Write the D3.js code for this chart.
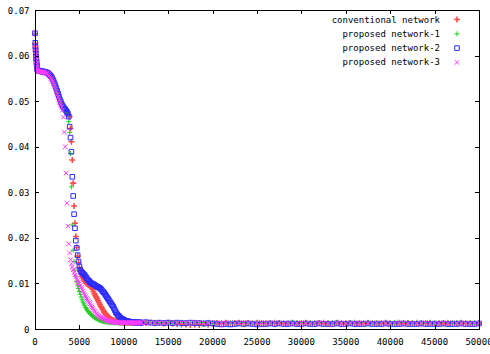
<!DOCTYPE html>
<html>
<head>
<meta charset="utf-8">
<script src="https://cdn.jsdelivr.net/npm/d3@7"></script>
<style>
  body { margin: 0; background: #fff; }
  text { font-family: "DejaVu Sans Mono", monospace; font-size: 9px; fill: #000; }
</style>
</head>
<body>
<div id="chart"></div>
<script>
// iterations at which the error was logged (denser at the very start)
var iterations = d3.range(0, 300, 25).concat(d3.range(300, 12000, 100), d3.range(12000, 50001, 500));

var xTicks = d3.range(0, 50001, 5000);
var yTicks = [0, 0.01, 0.02, 0.03, 0.04, 0.05, 0.06, 0.07];

var seriesNames = ['conventional network', 'proposed network-1', 'proposed network-2', 'proposed network-3'];

var conventional = [
  0.0648, 0.0626, 0.0618, 0.0610, 0.0603, 0.0596, 0.0590, 0.0584, 0.0579, 0.0575, 0.0571, 0.0568,
  0.0567, 0.0566, 0.0566, 0.0565, 0.0565, 0.0565, 0.0564, 0.0564, 0.0564, 0.0563,
  0.0562, 0.0561, 0.0560, 0.0558, 0.0556, 0.0554, 0.0551, 0.0547, 0.0543, 0.0538,
  0.0533, 0.0527, 0.0521, 0.0515, 0.0509, 0.0503, 0.0498, 0.0493, 0.0489, 0.0486,
  0.0483, 0.0481, 0.0478, 0.0475, 0.0472, 0.0469,
  0.0466, 0.0440, 0.0411, 0.0371, 0.0320, 0.0270, 0.0232, 0.0203, 0.0179, 0.0160,
  0.0146, 0.0135, 0.0127, 0.0121, 0.0116, 0.0112, 0.0108, 0.0105, 0.0102, 0.0100,
  0.0099, 0.0097, 0.0096, 0.0094, 0.0093, 0.0091, 0.0087, 0.0082, 0.0077, 0.0073,
  0.0070, 0.0066, 0.0062, 0.0058, 0.0054, 0.0050, 0.0047, 0.0044, 0.0040, 0.0037,
  0.0034, 0.0032, 0.0030, 0.0028, 0.0026, 0.0024, 0.0022, 0.0021, 0.0020, 0.0019,
  0.0018, 0.0017, 0.0017, 0.0016, 0.0016, 0.0016, 0.0015, 0.0015, 0.0015, 0.0015,
  0.0014, 0.0015, 0.0014, 0.0014, 0.0015, 0.0014, 0.0014, 0.0014, 0.0013, 0.0014,
  0.0014, 0.0013, 0.0014, 0.0014, 0.0013, 0.0014, 0.0013, 0.0014, 0.0013, 0.0013, 0.0014,
  0.0014, 0.0013, 0.0014, 0.0013, 0.0013, 0.0012, 0.0013, 0.0012, 0.0011, 0.0010,
  0.0010, 0.0009, 0.0010, 0.0009, 0.0011, 0.0010, 0.0012, 0.0013, 0.0012, 0.0013,
  0.0012, 0.0013, 0.0013, 0.0012, 0.0013, 0.0012, 0.0013, 0.0012, 0.0012, 0.0013,
  0.0012, 0.0013, 0.0012, 0.0012, 0.0013, 0.0012, 0.0012, 0.0013, 0.0012, 0.0012,
  0.0013, 0.0012, 0.0012, 0.0012, 0.0013, 0.0012, 0.0012, 0.0013, 0.0012, 0.0012,
  0.0012, 0.0013, 0.0012, 0.0012, 0.0012, 0.0013, 0.0012, 0.0012, 0.0012, 0.0012,
  0.0013, 0.0012, 0.0012, 0.0012, 0.0012, 0.0013, 0.0012, 0.0012, 0.0012, 0.0012,
  0.0012, 0.0012, 0.0013, 0.0012, 0.0012, 0.0012, 0.0012
];

var proposed1 = [
  0.0648, 0.0627, 0.0617, 0.0609, 0.0602, 0.0596, 0.0590, 0.0584, 0.0579, 0.0575, 0.0571, 0.0568,
  0.0567, 0.0566, 0.0566, 0.0565, 0.0565, 0.0565, 0.0565, 0.0564, 0.0564, 0.0563,
  0.0562, 0.0561, 0.0559, 0.0557, 0.0555, 0.0553, 0.0550, 0.0546, 0.0542, 0.0537,
  0.0532, 0.0526, 0.0520, 0.0514, 0.0508, 0.0502, 0.0497, 0.0492, 0.0488, 0.0485,
  0.0482, 0.0480, 0.0477, 0.0474, 0.0468, 0.0455,
  0.0431, 0.0385, 0.0312, 0.0228, 0.0173, 0.0148, 0.0129, 0.0115, 0.0104, 0.0096,
  0.0089, 0.0082, 0.0076, 0.0070, 0.0064, 0.0059, 0.0055, 0.0051, 0.0047, 0.0044,
  0.0041, 0.0038, 0.0036, 0.0034, 0.0032, 0.0030, 0.0028, 0.0027, 0.0025, 0.0024,
  0.0023, 0.0022, 0.0021, 0.0020, 0.0019, 0.0018, 0.0018, 0.0017, 0.0017, 0.0016,
  0.0016, 0.0016, 0.0015, 0.0015, 0.0015, 0.0014, 0.0015, 0.0014, 0.0014, 0.0014,
  0.0014, 0.0013, 0.0014, 0.0014, 0.0013, 0.0014, 0.0013, 0.0014, 0.0013, 0.0013,
  0.0014, 0.0013, 0.0013, 0.0014, 0.0013, 0.0013, 0.0014, 0.0013, 0.0013, 0.0013,
  0.0013, 0.0014, 0.0013, 0.0013, 0.0012, 0.0013, 0.0013, 0.0014, 0.0013, 0.0013, 0.0013,
  0.0014, 0.0015, 0.0014, 0.0015, 0.0014, 0.0014, 0.0015, 0.0014, 0.0014, 0.0015,
  0.0014, 0.0014, 0.0015, 0.0014, 0.0014, 0.0015, 0.0014, 0.0014, 0.0014, 0.0015,
  0.0014, 0.0014, 0.0015, 0.0014, 0.0014, 0.0014, 0.0015, 0.0014, 0.0014, 0.0014,
  0.0015, 0.0014, 0.0014, 0.0014, 0.0015, 0.0014, 0.0014, 0.0015, 0.0014, 0.0014,
  0.0014, 0.0015, 0.0014, 0.0014, 0.0015, 0.0014, 0.0014, 0.0014, 0.0015, 0.0014,
  0.0014, 0.0015, 0.0014, 0.0014, 0.0014, 0.0015, 0.0014, 0.0014, 0.0015, 0.0014,
  0.0014, 0.0014, 0.0015, 0.0014, 0.0014, 0.0015, 0.0014, 0.0014, 0.0014, 0.0015,
  0.0014, 0.0014, 0.0015, 0.0014, 0.0014, 0.0014, 0.0014
];

var proposed2 = [
  0.0649, 0.0628, 0.0619, 0.0611, 0.0604, 0.0597, 0.0591, 0.0585, 0.0580, 0.0576, 0.0572, 0.0569,
  0.0568, 0.0567, 0.0566, 0.0566, 0.0566, 0.0565, 0.0565, 0.0565, 0.0564, 0.0564,
  0.0563, 0.0562, 0.0561, 0.0559, 0.0557, 0.0555, 0.0552, 0.0548, 0.0544, 0.0539,
  0.0534, 0.0528, 0.0522, 0.0516, 0.0510, 0.0504, 0.0499, 0.0494, 0.0490, 0.0487,
  0.0484, 0.0482, 0.0479, 0.0476, 0.0473, 0.0466,
  0.0444, 0.0420, 0.0389, 0.0334, 0.0292, 0.0252, 0.0221, 0.0194, 0.0178, 0.0162,
  0.0148, 0.0137, 0.0130, 0.0126, 0.0124, 0.0122, 0.0120, 0.0118, 0.0115, 0.0112,
  0.0109, 0.0107, 0.0105, 0.0103, 0.0101, 0.0100, 0.0099, 0.0098, 0.0097, 0.0095,
  0.0094, 0.0093, 0.0092, 0.0091, 0.0090, 0.0088, 0.0086, 0.0083, 0.0081, 0.0079,
  0.0076, 0.0073, 0.0070, 0.0067, 0.0064, 0.0061, 0.0058, 0.0055, 0.0052, 0.0049,
  0.0045, 0.0041, 0.0037, 0.0034, 0.0031, 0.0029, 0.0027, 0.0025, 0.0023, 0.0022,
  0.0021, 0.0020, 0.0019, 0.0018, 0.0018, 0.0017, 0.0017, 0.0016, 0.0016, 0.0015,
  0.0015, 0.0015, 0.0015, 0.0014, 0.0015, 0.0014, 0.0014, 0.0015, 0.0014, 0.0014, 0.0014,
  0.0014, 0.0015, 0.0014, 0.0013, 0.0014, 0.0013, 0.0014, 0.0013, 0.0014, 0.0013,
  0.0013, 0.0014, 0.0013, 0.0013, 0.0012, 0.0013, 0.0012, 0.0011, 0.0010, 0.0011,
  0.0010, 0.0011, 0.0012, 0.0011, 0.0012, 0.0011, 0.0010, 0.0011, 0.0011, 0.0012,
  0.0011, 0.0012, 0.0011, 0.0011, 0.0012, 0.0011, 0.0011, 0.0012, 0.0011, 0.0011,
  0.0012, 0.0011, 0.0011, 0.0011, 0.0012, 0.0011, 0.0011, 0.0012, 0.0011, 0.0011,
  0.0011, 0.0012, 0.0011, 0.0011, 0.0011, 0.0012, 0.0011, 0.0011, 0.0011, 0.0012,
  0.0011, 0.0011, 0.0011, 0.0012, 0.0011, 0.0011, 0.0011, 0.0011, 0.0012, 0.0011,
  0.0011, 0.0011, 0.0012, 0.0011, 0.0011, 0.0011, 0.0012
];

var proposed3 = [
  0.0649, 0.0625, 0.0616, 0.0608, 0.0601, 0.0595, 0.0589, 0.0583, 0.0578, 0.0574, 0.0570, 0.0567,
  0.0566, 0.0565, 0.0565, 0.0565, 0.0564, 0.0564, 0.0564, 0.0563, 0.0563, 0.0562,
  0.0561, 0.0560, 0.0558, 0.0556, 0.0553, 0.0550, 0.0547, 0.0543, 0.0538, 0.0533,
  0.0527, 0.0521, 0.0515, 0.0509, 0.0503, 0.0497, 0.0492, 0.0487, 0.0480, 0.0465,
  0.0432, 0.0400, 0.0342, 0.0276, 0.0226, 0.0187,
  0.0167, 0.0152, 0.0143, 0.0136, 0.0130, 0.0124, 0.0119, 0.0115, 0.0110, 0.0106,
  0.0102, 0.0099, 0.0095, 0.0091, 0.0087, 0.0083, 0.0079, 0.0075, 0.0071, 0.0067,
  0.0064, 0.0061, 0.0058, 0.0055, 0.0051, 0.0048, 0.0045, 0.0042, 0.0039, 0.0037,
  0.0034, 0.0032, 0.0030, 0.0028, 0.0027, 0.0026, 0.0025, 0.0024, 0.0023, 0.0022,
  0.0021, 0.0020, 0.0019, 0.0018, 0.0018, 0.0017, 0.0017, 0.0016, 0.0016, 0.0015,
  0.0015, 0.0015, 0.0014, 0.0015, 0.0014, 0.0014, 0.0015, 0.0014, 0.0014, 0.0014,
  0.0014, 0.0014, 0.0013, 0.0014, 0.0014, 0.0013, 0.0014, 0.0014, 0.0013, 0.0014,
  0.0014, 0.0013, 0.0014, 0.0014, 0.0013, 0.0014, 0.0013, 0.0014, 0.0014, 0.0013, 0.0014,
  0.0014, 0.0014, 0.0013, 0.0014, 0.0014, 0.0013, 0.0014, 0.0014, 0.0013, 0.0014,
  0.0014, 0.0013, 0.0014, 0.0014, 0.0014, 0.0013, 0.0014, 0.0014, 0.0013, 0.0014,
  0.0014, 0.0014, 0.0013, 0.0014, 0.0014, 0.0013, 0.0014, 0.0014, 0.0014, 0.0013,
  0.0014, 0.0013, 0.0013, 0.0014, 0.0013, 0.0013, 0.0014, 0.0013, 0.0013, 0.0013,
  0.0014, 0.0013, 0.0013, 0.0013, 0.0014, 0.0013, 0.0013, 0.0013, 0.0013, 0.0014,
  0.0013, 0.0013, 0.0013, 0.0014, 0.0013, 0.0013, 0.0013, 0.0013, 0.0014, 0.0013,
  0.0013, 0.0013, 0.0013, 0.0013, 0.0014, 0.0013, 0.0013, 0.0013, 0.0013, 0.0013,
  0.0014, 0.0013, 0.0013, 0.0013, 0.0013, 0.0013, 0.0013
];

var width = 490;
var height = 354;
var margin = {left: 35, right: 11, top: 10, bottom: 25};
var tickLen = 4;

// point shapes, gnuplot style
function plus(s) {
  return 'M' + (-s) + ',0H' + s + 'M0,' + (-s) + 'V' + s;
}
function cross(s) {
  return 'M' + (-s) + ',' + (-s) + 'L' + s + ',' + s + 'M' + (-s) + ',' + s + 'L' + s + ',' + (-s);
}
function square(s) {
  return 'M' + (-s) + ',' + (-s) + 'H' + s + 'V' + s + 'H' + (-s) + 'Z';
}

var styles = [
  {color: '#ff4a4a', shape: plus, size: 3, sw: 1.6},
  {color: '#1fd11f', shape: plus, size: 2.5, sw: 1},
  {color: '#2b2bff', shape: square, size: 2.3, sw: 1},
  {color: '#ff3cff', shape: cross, size: 2.3, sw: 1}
];

var allValues = [conventional, proposed1, proposed2, proposed3];

var svg = d3.select('#chart').append('svg')
  .attr('width', width)
  .attr('height', height);

var x = d3.scaleLinear().domain([0, 50000]).range([margin.left, width - margin.right]);
var y = d3.scaleLinear().domain([0, 0.07]).range([height - margin.bottom, margin.top]);

// points
allValues.forEach(function(vals, k) {
  var st = styles[k];
  var data = iterations.map(function(it, i) { return [it, vals[i]]; })
    .filter(function(d) { return d[1] != null; });
  svg.append('g')
    .selectAll('path')
    .data(data)
    .enter()
    .append('path')
    .attr('transform', function(d) { return 'translate(' + x(d[0]) + ',' + y(d[1]) + ')'; })
    .attr('d', st.shape(st.size))
    .attr('fill', 'none')
    .attr('stroke', st.color)
    .attr('stroke-width', st.sw);
});

// ticks, mirrored on all four sides, pointing inward
var x0 = x.range()[0], x1 = x.range()[1];
var y0 = y.range()[0], y1 = y.range()[1];
var tg = svg.append('g').attr('stroke', '#000').attr('stroke-width', 1);

xTicks.forEach(function(t) {
  var px = Math.round(x(t)) + 0.5;
  tg.append('line').attr('x1', px).attr('x2', px).attr('y1', y0).attr('y2', y0 - tickLen);
  tg.append('line').attr('x1', px).attr('x2', px).attr('y1', y1).attr('y2', y1 + tickLen);
});
yTicks.forEach(function(t) {
  var py = Math.round(y(t)) + 0.5;
  tg.append('line').attr('x1', x0).attr('x2', x0 + tickLen).attr('y1', py).attr('y2', py);
  tg.append('line').attr('x1', x1).attr('x2', x1 - tickLen).attr('y1', py).attr('y2', py);
});

svg.append('rect')
  .attr('x', Math.round(x0) + 0.5)
  .attr('y', Math.round(y1) + 0.5)
  .attr('width', Math.round(x1 - x0))
  .attr('height', Math.round(y0 - y1))
  .attr('fill', 'none')
  .attr('stroke', '#000')
  .attr('stroke-width', 1);

// tick labels
svg.append('g').selectAll('text')
  .data(xTicks)
  .enter()
  .append('text')
  .attr('x', function(d) { return x(d); })
  .attr('y', y0 + 16)
  .attr('text-anchor', 'middle')
  .text(function(d) { return d; });

svg.append('g').selectAll('text')
  .data(yTicks)
  .enter()
  .append('text')
  .attr('x', x0 - 5.5)
  .attr('y', function(d) { return y(d) + 3.5; })
  .attr('text-anchor', 'end')
  .text(function(d) { return d === 0 ? '0' : d.toFixed(2); });

// legend
var legend = svg.append('g');
seriesNames.forEach(function(name, k) {
  var st = styles[k];
  var ly = 19.5 + k * 14.3;
  legend.append('text')
    .attr('x', 440)
    .attr('y', ly + 3)
    .attr('text-anchor', 'end')
    .text(name);
  legend.append('path')
    .attr('transform', 'translate(457,' + ly + ')')
    .attr('d', st.shape(st.size))
    .attr('fill', 'none')
    .attr('stroke', st.color)
    .attr('stroke-width', st.sw);
});
</script>
</body>
</html>
